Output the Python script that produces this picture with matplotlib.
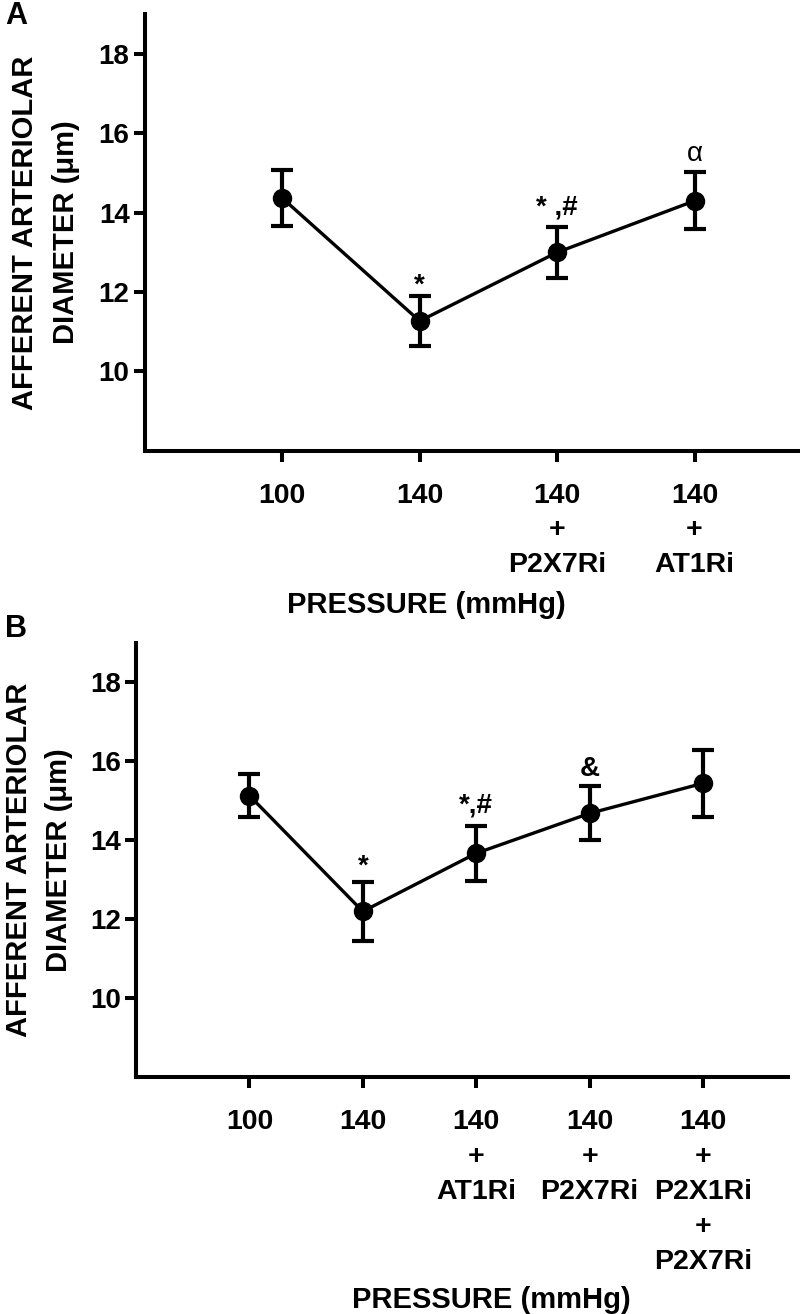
import matplotlib.pyplot as plt

plt.rcParams['font.family'] = ['Liberation Sans', 'DejaVu Sans']
plt.rcParams['font.weight'] = 'bold'

# panel A
labels_a = ['100', '140', '140\n+\nP2X7Ri', '140\n+\nAT1Ri']
mean_a = [14.37, 11.27, 13.0, 14.3]
sem_a = [0.70, 0.62, 0.65, 0.72]
marks_a = ['', '*', '* ,#', 'α']
mark_y_a = [0, 12.17, 14.13, 15.48]

# panel B
labels_b = ['100', '140', '140\n+\nAT1Ri', '140\n+\nP2X7Ri', '140\n+\nP2X1Ri\n+\nP2X7Ri']
mean_b = [15.13, 12.2, 13.67, 14.68, 15.44]
sem_b = [0.55, 0.75, 0.70, 0.68, 0.85]
marks_b = ['', '*', '*,#', '&', '']
mark_y_b = [0, 13.33, 14.87, 15.79, 0]

yticks = [10, 12, 14, 16, 18]

fig = plt.figure(figsize=(8, 13.14), dpi=100)
ax_a = fig.add_axes([0.181, 0.657, 0.816, 0.332])
ax_b = fig.add_axes([0.170, 0.180, 0.815, 0.331])


def draw(ax, labels, mean, sem, marks, mark_y, ylab_x, xlab_pos):
    x = list(range(len(mean)))
    ax.errorbar(x, mean, yerr=sem, color='black', lw=2.4, marker='o', ms=13,
                elinewidth=3, capsize=8, capthick=3)
    for xi, m, my in zip(x, marks, mark_y):
        if not m:
            continue
        w = 'normal' if m == 'α' else 'bold'
        ax.text(xi, my, m, ha='center', va='center', fontsize=20, fontweight=w)
    ax.set_xlim(-1, len(mean) - 0.25)
    ax.set_ylim(8, 19)
    ax.set_yticks(yticks)
    ax.set_xticks(x)
    ax.set_xticklabels(labels, fontsize=20.5, linespacing=1.44)
    ax.tick_params(axis='y', labelsize=20, length=8, width=2.9, pad=3)
    ax.tick_params(axis='x', length=8, width=2.9, pad=15)
    for s in ['top', 'right']:
        ax.spines[s].set_visible(False)
    for s in ['left', 'bottom']:
        ax.spines[s].set_linewidth(2.9)
    ax.set_ylabel('AFFERENT ARTERIOLAR\nDIAMETER (μm)', fontsize=21,
                  fontweight='bold', linespacing=1.55)
    ax.yaxis.set_label_coords(ylab_x, 0.5)
    ax.set_xlabel('PRESSURE (mmHg)', fontsize=21, fontweight='bold')
    ax.xaxis.set_label_coords(*xlab_pos)


draw(ax_a, labels_a, mean_a, sem_a, marks_a, mark_y_a, -0.1, (0.432, -0.322))
draw(ax_b, labels_b, mean_b, sem_b, marks_b, mark_y_b, -0.097, (0.545, -0.479))

fig.text(5 / 800, 1 - 1 / 1314, 'A', fontsize=22, fontweight='bold', ha='left', va='top')
fig.text(5 / 800, 1 - 614 / 1314, 'B', fontsize=22, fontweight='bold', ha='left', va='top')

fig.savefig('out.png', dpi=100)
